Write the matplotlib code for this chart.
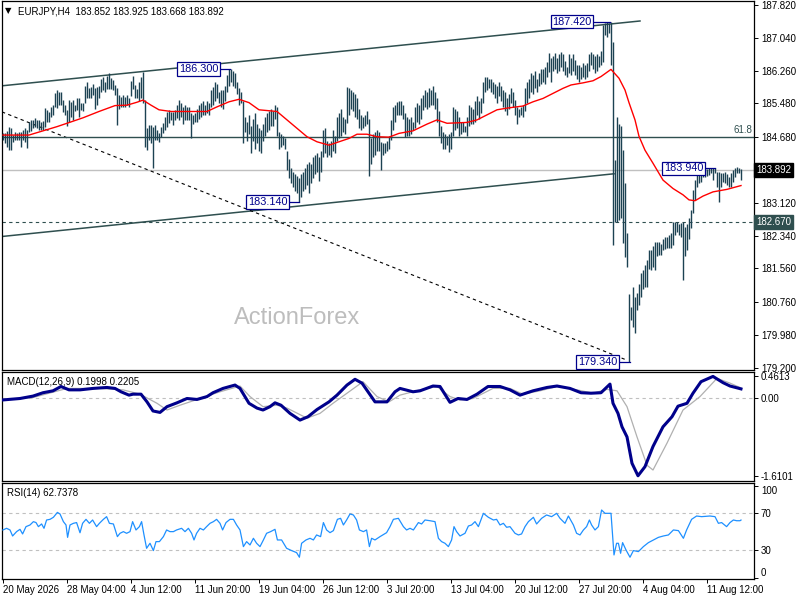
import matplotlib
matplotlib.use('Agg')
import matplotlib.pyplot as plt
import numpy as np

plt.rcParams['font.family'] = ['Liberation Sans', 'DejaVu Sans']

# ---------------- data ----------------
symbol_title = "EURJPY,H4  183.852 183.925 183.668 183.892"

highs = [
    184.78,184.78,184.83,184.92,184.90,184.73,184.80,184.78,184.80,184.80,
    184.85,184.90,184.85,185.04,185.09,185.09,185.14,185.09,185.09,185.04,
    185.06,185.37,185.33,185.28,185.40,185.45,185.73,185.80,185.75,185.75,
    185.56,185.45,185.33,185.56,185.52,185.56,185.45,185.60,185.62,185.50,
    185.50,185.90,186.00,185.85,185.88,185.95,185.85,185.88,185.90,186.05,
    186.10,186.00,186.13,186.20,186.09,186.04,185.92,185.85,185.68,185.64,
    185.68,185.64,185.68,185.60,186.02,186.13,185.92,185.82,185.98,186.10,
    186.22,185.56,184.90,184.97,184.97,184.92,184.97,184.85,184.78,184.92,
    185.02,185.16,185.28,185.33,185.28,185.28,185.33,185.45,185.56,185.50,
    185.40,185.45,185.40,185.40,185.25,185.20,185.25,185.35,185.45,185.50,
    185.55,185.45,185.55,185.50,185.80,185.88,186.00,185.95,185.75,185.80,
    185.80,185.90,186.15,186.30,186.30,186.25,186.20,186.00,185.85,185.75,
    185.55,185.15,185.05,185.20,184.95,185.10,185.25,185.00,184.90,184.85,
    185.00,185.15,185.25,185.30,185.35,185.30,185.45,185.40,184.80,184.75,
    184.70,184.65,184.35,184.15,183.95,183.85,183.80,183.75,183.70,183.80,
    183.85,183.95,184.05,184.10,184.05,184.20,184.25,184.30,184.20,184.35,
    184.85,184.90,184.60,184.55,184.60,184.85,184.70,185.15,185.25,185.35,
    185.15,185.10,185.87,185.85,185.80,185.75,185.70,185.60,185.35,185.20,
    185.15,185.20,185.30,185.10,184.65,184.75,184.80,184.85,184.80,184.56,
    184.55,184.55,184.60,184.70,185.09,185.40,185.45,185.52,185.55,185.55,
    185.45,185.25,185.15,185.10,185.15,185.05,185.40,185.50,185.45,185.60,
    185.68,185.80,185.75,185.85,185.80,185.90,185.75,185.60,185.30,184.95,
    184.80,184.75,184.70,184.75,184.80,185.40,185.35,185.30,185.15,185.05,
    185.05,184.95,185.15,185.45,185.40,185.35,185.55,185.65,185.55,185.60,
    185.99,186.10,186.10,186.05,186.05,186.00,185.95,185.90,186.00,185.90,
    185.80,185.75,185.60,185.70,185.85,185.75,185.56,185.40,185.35,185.40,
    185.45,185.85,186.00,186.05,186.20,186.15,186.25,186.05,186.20,186.30,
    186.30,186.35,186.47,186.68,186.55,186.60,186.68,186.55,186.65,186.70,
    186.65,186.50,186.35,186.65,186.55,186.65,186.51,186.40,186.40,186.35,
    186.45,186.40,186.45,186.66,186.70,186.65,186.60,186.66,186.60,186.72,
    187.35,187.39,187.42,187.40,187.42,186.95,184.14,185.16,185.00,184.95,
    184.37,183.60,182.40,180.95,180.65,181.12,180.88,180.97,181.20,181.45,
    181.52,181.64,181.76,182.00,182.00,182.10,182.19,182.19,182.19,182.14,
    182.26,182.31,182.31,182.35,182.40,182.67,182.67,182.67,182.62,182.65,
    182.67,182.55,182.62,182.76,182.95,183.43,183.66,183.83,183.94,183.90,
    183.94,183.94,183.92,183.94,183.94,183.94,183.94,183.86,183.86,183.82,
    183.82,183.86,183.80,183.74,183.82,183.90,183.94,183.98,183.94,183.925,
]

lows = [
    184.61,184.54,184.45,184.37,184.37,184.56,184.61,184.61,184.61,184.45,
    184.61,184.56,184.42,184.80,184.83,184.90,184.92,184.90,184.85,184.85,
    184.85,184.92,185.04,185.04,185.16,185.21,185.40,185.37,185.45,185.45,
    185.28,185.21,184.95,185.04,185.16,185.09,185.30,185.33,185.16,185.33,
    185.30,185.50,185.60,185.60,185.60,185.68,185.35,185.45,185.60,185.75,
    185.80,185.75,185.83,185.83,185.83,185.80,185.68,184.97,185.35,185.40,
    185.40,185.40,185.45,185.40,185.66,185.82,185.62,185.62,185.54,185.60,
    185.50,184.45,184.37,184.61,184.54,183.95,184.61,184.61,184.56,184.68,
    184.78,184.85,184.92,185.02,185.09,184.97,185.09,185.14,185.09,185.16,
    185.00,185.09,185.09,185.09,184.67,185.00,185.05,185.05,185.10,185.15,
    185.20,185.20,185.25,185.20,185.40,185.45,185.55,185.60,185.50,185.40,
    185.35,185.55,185.75,185.90,186.00,185.90,185.85,185.70,185.45,185.50,
    184.55,184.80,184.60,184.75,184.30,184.60,184.40,184.55,184.35,184.30,
    184.60,184.70,184.80,184.85,184.95,184.95,185.10,184.70,184.40,184.45,
    184.50,184.40,183.90,183.70,183.60,183.50,183.40,183.35,183.14,183.25,
    183.40,183.45,183.55,183.35,183.60,183.70,183.80,183.85,183.65,183.85,
    184.20,184.30,184.20,184.25,184.20,184.35,184.30,184.60,184.65,184.70,
    184.80,184.75,185.02,185.20,185.35,185.30,185.15,185.10,184.90,184.85,
    184.90,184.95,185.00,183.75,184.05,184.20,184.25,184.35,184.35,183.90,
    184.25,184.30,184.35,184.40,184.61,184.85,185.05,185.21,185.20,185.20,
    185.10,184.68,184.70,184.70,184.75,184.85,184.90,185.05,185.00,185.10,
    185.33,185.40,185.35,185.40,185.45,185.45,185.35,185.05,184.70,184.55,
    184.40,184.40,184.50,184.33,184.40,184.70,184.85,184.90,184.70,184.75,
    184.80,184.80,184.70,184.95,185.00,185.00,185.05,185.20,185.10,185.25,
    185.49,185.75,185.80,185.85,185.75,185.70,185.60,185.50,185.65,185.55,
    185.40,185.30,185.20,185.35,185.50,185.40,185.21,185.00,185.15,185.20,
    185.15,185.30,185.50,185.60,185.75,185.70,185.85,185.75,185.90,185.95,
    186.00,185.95,186.11,186.23,186.00,186.25,186.30,186.20,186.25,186.35,
    186.25,186.15,186.10,186.20,186.15,186.25,186.16,186.05,186.00,186.05,
    186.10,186.05,186.10,186.25,186.40,186.30,186.20,186.25,186.35,186.40,
    186.47,187.11,187.05,187.15,186.40,182.12,182.66,182.66,182.70,182.75,
    182.17,181.83,181.60,179.34,180.34,180.17,180.03,180.57,180.70,180.88,
    181.08,181.12,181.12,181.55,181.52,181.60,181.52,181.85,181.88,181.88,
    182.00,182.03,182.05,182.05,182.05,182.12,182.35,182.43,182.35,182.30,
    181.29,181.85,182.00,182.26,182.52,182.88,183.19,183.50,183.60,183.62,
    183.74,183.74,183.76,183.78,183.82,183.66,183.82,183.50,183.14,183.50,
    183.62,183.58,183.55,183.50,183.50,183.62,183.74,183.82,183.82,183.668,
]

ma_bar = [0, 13, 20, 27, 32, 40, 48, 56, 62, 67, 70, 74, 78, 84, 94, 102, 107,
          113, 118, 123, 128, 137, 142, 147, 152, 157, 163, 168, 173, 177, 182,
          187, 193, 198, 205, 212, 217, 222, 232, 237, 242, 247, 252, 260, 265,
          270, 275, 280, 284, 290, 295, 299, 304, 308, 311, 313, 316, 318, 321,
          325, 330, 335, 340, 343, 346, 350, 355, 362, 369]
ma_val = [184.73, 184.73, 184.83, 184.93, 185.01, 185.14, 185.29, 185.43, 185.44,
          185.51, 185.56, 185.44, 185.33, 185.29, 185.29, 185.29, 185.40, 185.52,
          185.58, 185.50, 185.33, 185.29, 185.09, 184.89, 184.69, 184.57, 184.49,
          184.57, 184.65, 184.75, 184.75, 184.69, 184.68, 184.77, 184.83, 184.99,
          185.09, 185.01, 185.03, 185.09, 185.21, 185.33, 185.37, 185.42, 185.52,
          185.60, 185.72, 185.84, 185.92, 185.97, 186.02, 186.12, 186.29, 186.08,
          185.80, 185.50, 185.09, 184.70, 184.37, 184.06, 183.66, 183.46, 183.31,
          183.19, 183.17, 183.28, 183.38, 183.44, 183.53]

macd_bar = [0, 8.5, 15, 20, 25, 29, 33, 38.5, 45, 52, 56, 59, 63, 65, 69, 72, 75,
            78.5, 82, 87, 92, 97, 102, 105, 110, 116, 118.5, 123, 127, 130, 133.5,
            136, 139, 143.5, 148.5, 152.5, 157, 163, 167, 172, 176, 179.5, 183,
            186, 192, 196, 198.5, 205, 208.5, 215, 218.5, 223.5, 227.5, 232, 237,
            242.5, 248.5, 253.5, 258.5, 265, 272, 277, 283.5, 289, 294, 299,
            303.5, 305, 307.5, 309.5, 312, 314.5, 317.5, 321, 325, 330, 334.5,
            337.5, 342, 345, 349, 355, 360, 363.5, 369]
macd_val = [-0.03, 0.00, 0.05, 0.12, 0.16, 0.25, 0.18, 0.18, 0.21, 0.23, 0.21,
            0.14, 0.07, 0.09, 0.09, -0.07, -0.26, -0.29, -0.17, -0.09, 0.00,
            -0.02, 0.04, 0.12, 0.21, 0.28, 0.21, -0.10, -0.20, -0.24, -0.17,
            -0.09, -0.14, -0.31, -0.45, -0.38, -0.23, -0.07, 0.07, 0.28, 0.40,
            0.32, 0.11, -0.07, -0.07, 0.14, 0.21, 0.14, 0.16, 0.26, 0.25, -0.08,
            0.00, -0.02, 0.09, 0.25, 0.25, 0.18, 0.07, 0.16, 0.23, 0.26, 0.21,
            0.12, 0.11, 0.12, 0.30, -0.10, -0.31, -0.59, -0.80, -1.35, -1.61,
            -1.42, -1.00, -0.59, -0.38, -0.16, -0.10, 0.11, 0.35, 0.46, 0.33,
            0.26, 0.20]

signal_bar = [0, 15, 32, 48.5, 60, 68.5, 77, 82, 88.5, 98.5, 108.5, 118.5, 123.5,
              130, 137, 142, 152, 158.5, 165, 172, 180, 187, 193, 198.5, 208.5,
              217, 223.5, 228.5, 235, 245, 253.5, 260, 268.5, 277, 287, 295, 302,
              307, 312, 317, 322, 325, 332, 340, 348.5, 357, 363.5, 369]
signal_val = [-0.03, 0.02, 0.21, 0.21, 0.18, 0.09, -0.10, -0.24, -0.14, 0.00,
              0.14, 0.26, 0.04, -0.17, -0.14, -0.20, -0.41, -0.31, -0.10, 0.11,
              0.35, 0.04, -0.07, 0.07, 0.18, 0.25, 0.04, -0.03, 0.00, 0.21, 0.21,
              0.09, 0.16, 0.25, 0.18, 0.11, 0.19, 0.16, -0.17, -0.80, -1.39,
              -1.49, -0.93, -0.24, 0.04, 0.42, 0.32, 0.22]

rsi_bar = [0, 1.8, 3.5, 4.8, 6.8, 8.5, 9.8, 11.5, 13.5, 15.2, 16.5, 17.7, 19.3,
           20.5, 21.8, 23.5, 25.2, 27.2, 28.5, 30.2, 31.5, 32.3, 33.5, 35.2, 36.8,
           38.5, 39.8, 41.5, 43.2, 44.8, 46.8, 48.2, 50.2, 51.8, 53.2, 55.2, 57.2,
           58.5, 60.2, 61.8, 63.5, 64.8, 66.5, 68.2, 69.3, 70.5, 71.8, 73.5, 75.2,
           76.5, 78.2, 80.2, 81.8, 83.5, 85.2, 86.8, 89.3, 91, 92.7, 94.3, 95.5,
           96.8, 98.5, 100.2, 101.8, 103.5, 105.2, 106.8, 108.5, 109.8, 111.5,
           113.5, 115.2, 116.8, 118.5, 120.2, 121.8, 123.5, 125.2, 126.8, 128.5,
           130.2, 131.8, 133.8, 136, 137.2, 139.3, 141.8, 144.3, 146.8, 148.2,
           149.3, 151.5, 153.5, 155.2, 156.8, 158.8, 160.2, 161.8, 163.5, 165.2,
           167.2, 168.8, 170.2, 171.8, 173.5, 175.2, 176.8, 178.2, 180.2, 181.8,
           183.2, 184.3, 186, 188.5, 191.8, 193.5, 195.2, 197.7, 200.2, 201.8,
           203.5, 205.2, 207.7, 209.3, 211, 213.5, 216, 217.7, 219.3, 221, 222.7,
           224.3, 225.5, 226.8, 228.5, 231, 232.7, 234.3, 236, 237.7, 240.2,
           242.7, 245.2, 246.8, 248.5, 250.2, 251.8, 253.5, 256, 257.7, 259.3,
           261, 262.7, 265.2, 266.8, 269.3, 271.8, 274.3, 276.8, 278.5, 281,
           282.7, 285.2, 286.8, 288.5, 290.2, 291.8, 293.2, 294.3, 296, 297.7,
           299.3, 301, 304, 305.5, 306.8, 307.7, 308.8, 309.8, 311.5, 313.5,
           315.2, 317.7, 320.2, 322.7, 325.2, 327.7, 330.2, 332.7, 335.2, 337.7,
           340.2, 341.8, 344.3, 346.8, 349.3, 353.5, 356, 357.7, 359.3, 361.8,
           363.5, 365.2, 366.8, 368.5, 369]
rsi_val = [52, 53.8, 52, 45.5, 50.2, 52.7, 47.7, 55.6, 57.4, 61, 60, 55.6, 58.5,
           53.8, 62.8, 63.5, 65.7, 71, 69.3, 61, 57.4, 44, 57.4, 59.2, 60, 49,
           59.2, 63.5, 59.2, 62.8, 55.6, 59.2, 63.5, 66.4, 59.2, 58.5, 44.8, 48.4,
           50.2, 48.4, 50.2, 61, 52, 55.6, 61, 46.6, 32.2, 37.6, 29.7, 39.4, 39.4,
           44.8, 52, 50.2, 50.2, 52, 53.8, 50.2, 53.8, 48.4, 41.2, 48.4, 53.8, 52,
           55.6, 59.2, 61, 63.5, 59.2, 52, 60, 63.5, 63.5, 57.4, 52, 34, 39.4,
           35.8, 43, 37.6, 34, 41.2, 48.4, 50.2, 52.7, 41.2, 41.2, 32.2, 29.7,
           27.5, 22.5, 37.6, 41.2, 43, 41.2, 46.6, 44.8, 60, 52, 49.1, 51.3, 63.5,
           64.6, 57.4, 62.8, 69.3, 68.2, 62.8, 52, 50.2, 52, 34, 43, 41.2, 44.8,
           49.1, 55.6, 63.5, 64.6, 55.6, 52, 53.8, 52, 60, 58.5, 62.8, 62, 61, 43,
           39.4, 37.6, 34, 41.2, 55.6, 50.2, 45.5, 48.4, 56.3, 57.4, 61, 55.6, 70,
           65.7, 62.8, 63.5, 57.4, 59.2, 54.9, 55.6, 48.4, 46.6, 47.7, 55.6, 61,
           65.7, 58.5, 64.6, 68.2, 66.4, 70, 64.6, 59.2, 67.1, 57.4, 48.4, 46.6,
           52, 55.6, 62.8, 57.4, 52, 55.6, 73.6, 70, 70, 25, 37.6, 37.6, 26.8,
           38.3, 30.4, 22.5, 29.7, 28.6, 34, 38.3, 41.2, 44, 45.5, 46.6, 52, 51.3,
           43, 52, 63.5, 67.1, 66.4, 67.1, 66.4, 59.2, 60, 55.6, 60, 62.8, 62, 62,
           62.74]

price_ticks = [187.82, 187.04, 186.26, 185.48, 184.68, 183.90, 183.12, 182.34,
               181.56, 180.76, 179.98, 179.20]
hidden_price_tick = 183.90   # covered by the bid-price box
macd_ticks = [0.4613, 0.0, -1.6101]
macd_tick_labels = ["0.4613", "0.00", "-1.6101"]
rsi_ticks = [0, 30, 70, 100]
date_tick_bars = [0, 32, 64, 96, 128, 160, 192, 224, 256, 288, 320, 352]
date_labels = ["20 May 2026", "28 May 04:00", "4 Jun 12:00", "11 Jun 20:00",
               "19 Jun 04:00", "26 Jun 12:00", "3 Jul 20:00", "13 Jul 04:00",
               "20 Jul 12:00", "27 Jul 20:00", "4 Aug 04:00", "11 Aug 12:00"]

# trend lines (bar index, price)
upper_channel = ([-0.5, 318.5], [185.90, 187.44])
lower_channel = ([-0.5, 305.5], [182.32, 183.81])
dotted_trend = ([-0.5, 311.0], [185.28, 179.40])
fib_level = 184.68
bid_price = 183.892
support_level = 182.67

# swing labels: (text, price, box right edge bar, bar reached)
swing_labels = [("186.300", 186.30, 108.5, 113.5),
                ("187.420", 187.42, 295.2, 303.5),
                ("183.140", 183.14, 143.0, 148.0),
                ("183.940", 183.94, 351.0, 356.0),
                ("179.340", 179.34, 308.0, 313.5)]

# ---------------- figure ----------------
W, H = 800, 600
fig = plt.figure(figsize=(8, 6), dpi=100)
fig.patch.set_facecolor('white')


def rect(x0, y0, x1, y1):
    return [x0 / W, 1 - y1 / H, (x1 - x0) / W, (y1 - y0) / H]


ax = fig.add_axes(rect(2, 1, 754, 370))
axm = fig.add_axes(rect(2, 372, 754, 481))
axr = fig.add_axes(rect(2, 483, 754, 579))

DSG = '#2f4f4f'
BAR = '#1c4252'
NAVY = '#00008b'
FS = 7

for a in (ax, axm, axr):
    a.set_xlim(-0.5, 375.5)
    for s in a.spines.values():
        s.set_color('black')
        s.set_linewidth(0.9)
    a.yaxis.tick_right()
    a.tick_params(axis='y', direction='out', length=3, width=0.7, pad=2,
                  labelsize=FS, colors='black')
    a.set_facecolor('white')

ax.set_xticks([])
axm.set_xticks([])

# main price panel
ax.set_ylim(179.148, 187.915)
idx = np.arange(len(highs))
ax.vlines(idx, lows, highs, color=BAR, linewidth=1.0, zorder=3)
ax.plot(ma_bar, ma_val, color='#ff0000', linewidth=1.0, zorder=4)

ax.plot(*upper_channel, color=DSG, linewidth=1.1, zorder=2)
ax.plot(*lower_channel, color=DSG, linewidth=1.1, zorder=2)
ax.plot(*dotted_trend, color='black', linewidth=0.8, linestyle=(0, (3, 3)), zorder=2)
ax.axhline(fib_level, color=DSG, linewidth=1.0, zorder=2)
ax.axhline(bid_price, color='#c0c0c0', linewidth=1.0, zorder=1)
ax.axhline(support_level, color=DSG, linewidth=0.8, linestyle=(0, (3, 3)), zorder=2)
ax.text(374.5, fib_level + 0.05, "61.8", ha='right', va='bottom', fontsize=FS,
        color=DSG)

ax.set_yticks(price_ticks)
ax.set_yticklabels(["" if v == hidden_price_tick else f"{v:.3f}" for v in price_ticks])

for txt, price, xr, xb in swing_labels:
    ax.plot([xr, xb], [price, price], color=NAVY, linewidth=0.9, zorder=5)
    ax.text(xr - 0.9, price, txt, ha='right', va='center', fontsize=7.8,
            color=NAVY, zorder=6,
            bbox=dict(boxstyle='square,pad=0.15', fc='white', ec=NAVY, lw=0.9))

ax.annotate("183.892", xy=(1.003, bid_price), xycoords=('axes fraction', 'data'),
            ha='left', va='center', fontsize=FS, color='white', zorder=10,
            annotation_clip=False,
            bbox=dict(boxstyle='square,pad=0.2', fc='black', ec='black'))
ax.annotate("182.670", xy=(1.003, support_level), xycoords=('axes fraction', 'data'),
            ha='left', va='center', fontsize=FS, color='white', zorder=10,
            annotation_clip=False,
            bbox=dict(boxstyle='square,pad=0.2', fc=DSG, ec=DSG))

ax.text(0.392, 0.14, "ActionForex", transform=ax.transAxes, ha='center',
        va='center', fontsize=17, color='#bdbdbd', zorder=1)

fig.text(5 / W, 1 - 11 / H, "\u25bc", fontsize=6, va='center', ha='left',
         family=['DejaVu Sans'], color='black')
fig.text(18 / W, 1 - 11 / H, symbol_title, fontsize=FS, va='center', ha='left',
         color='black')

# MACD panel
axm.set_ylim(-1.719, 0.552)
axm.axhline(0, color='#c0c0c0', linewidth=0.8, linestyle=(0, (3, 3)), zorder=1)
axm.plot(signal_bar, signal_val, color='#b0b0b0', linewidth=0.9, zorder=2)
axm.plot(macd_bar, macd_val, color='#00008b', linewidth=2.2, zorder=3)
axm.set_yticks(macd_ticks)
axm.set_yticklabels(macd_tick_labels)
fig.text(7 / W, 1 - 382 / H, "MACD(12,26,9) 0.1998 0.2205", fontsize=FS,
         va='center', ha='left', color='black')

# RSI panel
axr.set_ylim(-1.03, 102.8)
axr.axhline(70, color='#c0c0c0', linewidth=0.8, linestyle=(0, (3, 3)), zorder=1)
axr.axhline(30, color='#c0c0c0', linewidth=0.8, linestyle=(0, (3, 3)), zorder=1)
axr.plot(rsi_bar, rsi_val, color='#1e90ff', linewidth=0.9, zorder=3)
axr.set_yticks(rsi_ticks)
axr.set_yticklabels([str(v) for v in rsi_ticks])
labs = axr.get_yticklabels()
labs[0].set_va('bottom')
labs[-1].set_va('top')
fig.text(7 / W, 1 - 493 / H, "RSI(14) 62.7378", fontsize=FS, va='center',
         ha='left', color='black')

axr.set_xticks(date_tick_bars)
axr.set_xticklabels(date_labels)
axr.tick_params(axis='x', direction='out', length=3, width=0.7, pad=1.5,
                labelsize=FS, colors='black')
for lab in axr.get_xticklabels():
    lab.set_ha('left')

fig.savefig('out.png', dpi=100, facecolor='white')
